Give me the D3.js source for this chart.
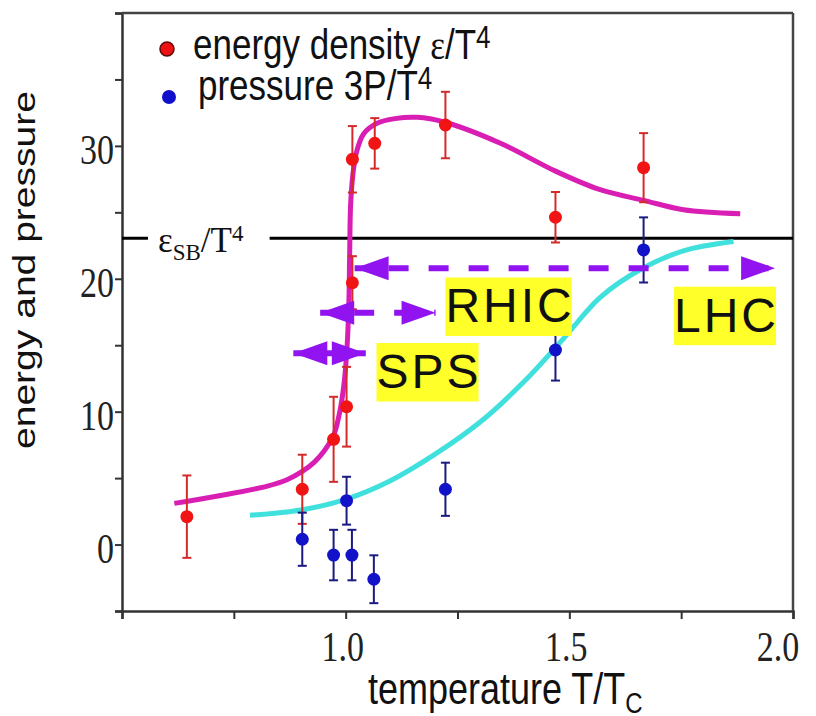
<!DOCTYPE html>
<html>
<head>
<meta charset="utf-8">
<script src="https://cdn.jsdelivr.net/npm/d3@7"></script>
<style>
  body { margin: 0; background: #fff; }
  svg { display: block; }
</style>
</head>
<body>
<svg id="chart" width="816" height="716"></svg>
<script>
// data (T/Tc, value)
var energyT   = [0.645, 0.903, 0.973, 1.002, 1.015, 1.015, 1.065, 1.223, 1.469, 1.666];
var energyVal = [2.10, 4.16, 7.92, 10.37, 19.70, 28.99, 30.19, 31.57, 24.63, 28.36];
var energyErr = [3.1, 2.6, 3.2, 3.0, 2.0, 2.5, 1.9, 2.5, 1.9, 2.6];

var pressureT   = [0.903, 0.973, 1.014, 1.063, 1.002, 1.223, 1.469, 1.666];
var pressureVal = [0.40, -0.79, -0.79, -2.61, 3.30, 4.16, 14.64, 22.17];
var pressureErr = [2.0, 1.9, 1.9, 1.8, 1.8, 2.0, 2.3, 2.45];

// lattice curves
var energyCurve = [[0.617,3.1],[0.714,3.65],[0.825,4.4],[0.87,4.9],[0.903,5.5],[0.93,6.2],
  [0.951,7.0],[0.973,8.2],[0.988,10.2],[0.997,12.3],[1.003,14.8],[1.007,18],[1.009,22],
  [1.011,25.5],[1.016,27.8],[1.024,29.5],[1.04,30.9],[1.07,31.7],[1.11,32.05],[1.16,32.15],
  [1.22,31.8],[1.346,30.2],[1.469,28.1],[1.569,26.7],[1.666,25.9],[1.755,25.2],[1.882,24.9]];
var pressureCurve = [[0.786,2.2],[0.9,2.6],[1.0,3.4],[1.1,4.8],[1.2,6.8],[1.3,9.2],
  [1.4,12.3],[1.487,15.5],[1.569,18.6],[1.659,20.7],[1.755,22.1],[1.867,22.8]];

var sbLevel = 23.05;
var sbSegments = [[0.5, 0.558], [0.83, 2.0]];

// accelerator ranges
var arrowFrom  = [1.02, 0.943, 0.883];
var arrowTo    = [1.96, 1.201, 1.045];
var arrowLevel = [20.8, 17.45, 14.4];
var arrowDash  = [true, true, false];

var labelNames = ["RHIC", "LHC", "SPS"];
var labelT     = [1.223, 1.734, 1.069];
var labelLevel = [16.71, 16.02, 11.78];

var xTicks = [0.5, 0.75, 1.0, 1.25, 1.5, 1.75, 2.0];
var xLabeled = [1.0, 1.5, 2.0];
var xLabelText = ["1.0", "1.5", "2.0"];
var yTicks = [-5, 0, 5, 10, 15, 20, 25, 30, 35, 40];
var yLabeled = [0, 10, 20, 30];

var SANS = "'Liberation Sans', Arial, sans-serif";
var SERIF = "'Liberation Serif', 'Times New Roman', serif";
var STRETCH = 1.22;

var svg = d3.select("#chart");

var x = d3.scaleLinear().domain([0.5, 2.0]).range([122, 793]);
var y = d3.scaleLinear().domain([-5, 40]).range([611, 13]);

// frame + axes
svg.append("g")
  .attr("transform", "translate(0," + y(-5) + ")")
  .call(d3.axisBottom(x).tickValues(xTicks).tickSize(8).tickFormat(""))
  .call(function(g) {
    g.select(".domain").attr("stroke", "#333").attr("stroke-width", 2.5);
    g.selectAll(".tick line").attr("stroke", "#333").attr("stroke-width", 2);
  });

svg.append("g")
  .attr("transform", "translate(" + x(0.5) + ",0)")
  .call(d3.axisLeft(y).tickValues(yTicks).tickSize(7).tickFormat(""))
  .call(function(g) {
    g.select(".domain").attr("stroke", "#333").attr("stroke-width", 2.5);
    g.selectAll(".tick line").attr("stroke", "#333").attr("stroke-width", 2);
  });

svg.append("line")
  .attr("x1", x(0.5)).attr("x2", x(2.0))
  .attr("y1", y(40)).attr("y2", y(40))
  .style("stroke", "#444").style("stroke-width", 2.5);
svg.append("line")
  .attr("x1", x(2.0)).attr("x2", x(2.0))
  .attr("y1", y(40)).attr("y2", y(-5))
  .style("stroke", "#444").style("stroke-width", 2.5);

// tick labels (last one pulled in from the page edge)
svg.selectAll(".xlab").data(xLabeled).enter().append("text")
  .attr("transform", function(d) {
    return "translate(" + Math.min(x(d) - 3, 778) + "," + (y(-5) + 50) + ") scale(1," + STRETCH + ")";
  })
  .attr("text-anchor", "middle")
  .style("font-family", SERIF).style("font-size", "34px").style("fill", "#222")
  .text(function(d, i) { return xLabelText[i]; });

svg.selectAll(".ylab").data(yLabeled).enter().append("text")
  .attr("transform", function(d) { return "translate(114," + (y(d) + 18) + ") scale(1," + STRETCH + ")"; })
  .attr("text-anchor", "end")
  .style("font-family", SERIF).style("font-size", "34px").style("fill", "#222")
  .text(function(d) { return d; });

// axis titles
var xt = svg.append("text")
  .attr("transform", "translate(368,704) scale(1," + STRETCH + ")")
  .style("font-family", SANS).style("font-size", "36px").style("fill", "#111");
xt.append("tspan").text("temperature T/T");
xt.append("tspan").attr("dy", 7).style("font-size", "24px").text("C");

svg.append("text")
  .attr("transform", "translate(35,270) scale(1," + STRETCH + ") rotate(-90)")
  .attr("text-anchor", "middle")
  .style("font-family", SANS).style("font-size", "32px").style("fill", "#111")
  .text("energy and pressure");

// Stefan-Boltzmann limit
svg.selectAll(".sb").data(sbSegments).enter().append("line")
  .attr("x1", function(d) { return x(d[0]); })
  .attr("x2", function(d) { return x(d[1]); })
  .attr("y1", y(sbLevel)).attr("y2", y(sbLevel))
  .style("stroke", "#000").style("stroke-width", 3);

var sb = svg.append("text")
  .attr("x", 158).attr("y", y(sbLevel) + 14)
  .style("font-family", SERIF).style("font-size", "35px").style("fill", "#111");
sb.append("tspan").text("\u03b5");
sb.append("tspan").attr("dy", 8).style("font-size", "23px").text("SB");
sb.append("tspan").attr("dy", -8).text("/T");
sb.append("tspan").attr("dy", -11).style("font-size", "23px").text("4");

// curves
var line = d3.line()
  .x(function(d) { return x(d[0]); })
  .y(function(d) { return y(d[1]); })
  .curve(d3.curveCatmullRom.alpha(0.5));

svg.append("path").datum(pressureCurve)
  .attr("d", line)
  .style("fill", "none").style("stroke", "#40e0dc").style("stroke-width", 5);
svg.append("path").datum(energyCurve)
  .attr("d", line)
  .style("fill", "none").style("stroke", "#d91eb4").style("stroke-width", 5);

// data points with error bars
function drawPoints(ts, vals, errs, fill, barColor) {
  var g = svg.append("g");
  var pts = ts.map(function(t, i) { return { t: t, v: vals[i], e: errs[i] }; });
  var bars = g.selectAll(".bar").data(pts).enter().append("g");
  bars.append("line")
    .attr("x1", function(d) { return x(d.t); }).attr("x2", function(d) { return x(d.t); })
    .attr("y1", function(d) { return y(d.v - d.e); }).attr("y2", function(d) { return y(d.v + d.e); })
    .style("stroke", barColor).style("stroke-width", 2);
  [-1, 1].forEach(function(s) {
    bars.append("line")
      .attr("x1", function(d) { return x(d.t) - 4.5; }).attr("x2", function(d) { return x(d.t) + 4.5; })
      .attr("y1", function(d) { return y(d.v + s * d.e); }).attr("y2", function(d) { return y(d.v + s * d.e); })
      .style("stroke", barColor).style("stroke-width", 2);
  });
  g.selectAll(".pt").data(pts).enter().append("circle")
    .attr("cx", function(d) { return x(d.t); })
    .attr("cy", function(d) { return y(d.v); })
    .attr("r", 6.5)
    .style("fill", fill);
}
drawPoints(energyT, energyVal, energyErr, "#f01414", "#d42a2a");
drawPoints(pressureT, pressureVal, pressureErr, "#1212c8", "#1a1a80");

// arrows
var headLen = 34, headW = 12, purple = "#9114f0";
arrowFrom.forEach(function(f, i) {
  var x1 = x(f), x2 = x(arrowTo[i]), yy = y(arrowLevel[i]);
  var ln = svg.append("line")
    .attr("x1", x1).attr("x2", x2).attr("y1", yy).attr("y2", yy)
    .style("stroke", purple).style("stroke-width", 6);
  if (arrowDash[i]) ln.style("stroke-dasharray", "20,20").style("stroke-dashoffset", 6);
  svg.append("polygon")
    .attr("points", [[x1, yy], [x1 + headLen, yy - headW], [x1 + headLen, yy + headW]].join(" "))
    .style("fill", purple);
  svg.append("polygon")
    .attr("points", [[x2, yy], [x2 - headLen, yy - headW], [x2 - headLen, yy + headW]].join(" "))
    .style("fill", purple);
});

// accelerator labels on yellow
labelNames.forEach(function(name, i) {
  var g = svg.append("g");
  var bx = g.append("rect");
  var t = g.append("text")
    .attr("x", x(labelT[i])).attr("y", y(labelLevel[i]))
    .style("font-family", SANS).style("font-size", "48px")
    .style("letter-spacing", "3px").style("fill", "#111")
    .text(name);
  var bb = t.node().getBBox();
  bx.attr("x", bb.x).attr("width", bb.width - 3)
    .attr("y", y(labelLevel[i]) - 45).attr("height", 58.5)
    .style("fill", "#ffff2a");
});

// legend
svg.append("circle").attr("cx", 167).attr("cy", 49).attr("r", 7)
  .style("fill", "#ee1111").style("stroke", "#5a0a0a").style("stroke-width", 1.5);
svg.append("circle").attr("cx", 169).attr("cy", 97).attr("r", 7)
  .style("fill", "#1010cc");

var l1 = svg.append("text")
  .attr("transform", "translate(193,59) scale(1," + STRETCH + ")")
  .style("font-family", SANS).style("font-size", "35px").style("fill", "#111");
l1.append("tspan").text("energy density ");
l1.append("tspan").style("font-family", SERIF).text("\u03b5");
l1.append("tspan").text("/T");
l1.append("tspan").attr("dy", -9).style("font-size", "26px").text("4");

var l2 = svg.append("text")
  .attr("transform", "translate(198,100) scale(1," + STRETCH + ")")
  .style("font-family", SANS).style("font-size", "35px").style("fill", "#111");
l2.append("tspan").text("pressure 3P/T");
l2.append("tspan").attr("dy", -9).style("font-size", "26px").text("4");
</script>
</body>
</html>
